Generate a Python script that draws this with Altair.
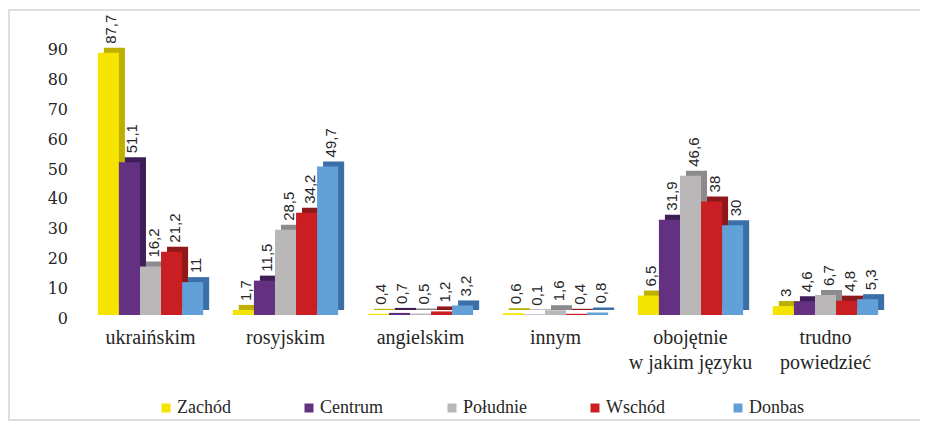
import altair as alt
import pandas as pd

categories = ["ukraińskim", "rosyjskim", "angielskim", "innym",
              "obojętnie\nw jakim języku", "trudno\npowiedzieć"]
regions = ["Zachód", "Centrum", "Południe", "Wschód", "Donbas"]
zachod = [87.7, 1.7, 0.4, 0.6, 6.5, 3]
centrum = [51.1, 11.5, 0.7, 0.1, 31.9, 4.6]
poludnie = [16.2, 28.5, 0.5, 1.6, 46.6, 6.7]
wschod = [21.2, 34.2, 1.2, 0.4, 38, 4.8]
donbas = [11, 49.7, 3.2, 0.8, 30, 5.3]
y_ticks = [0, 10, 20, 30, 40, 50, 60, 70, 80, 90]

front_colors = ["#F5E400", "#633082", "#BAB7B9", "#C91F22", "#62A0D8"]
side_colors = ["#BDB000", "#3F1D57", "#8C8A8C", "#8F181B", "#3B6FA8"]

SERIF = "Liberation Serif"
GEORGIA = "DejaVu Serif"

series = [zachod, centrum, poludnie, wschod, donbas]
rows = []
for r, vals in zip(regions, series):
    for c, v in zip(categories, vals):
        rows.append({"cat": c, "region": r, "value": v,
                     "shade": r + " ",
                     "label": ("%g" % v).replace(".", ",")})
df = pd.DataFrame(rows)
cat_df = pd.DataFrame({"cat": categories})
tick_df = pd.DataFrame({"tick": y_ticks})

W, H = 810, 269


def x_enc(shift):
    return alt.X("cat:N", sort=categories, title=None,
                 scale=alt.Scale(paddingInner=0.22, paddingOuter=0.11,
                                 range=[shift, W + shift]),
                 axis=None)


xo_enc = alt.XOffset("region:N", sort=regions)
y_scale = alt.Scale(domain=[0, 90], nice=False)
y_enc = alt.Y("value:Q", title=None, scale=y_scale,
              axis=alt.Axis(values=y_ticks, labels=False,
                            domain=False, ticks=False,
                            gridColor="#DADADA", gridWidth=1.5))
tick_y = alt.Y("tick:Q", scale=y_scale, axis=None)

base = alt.Chart(df)

side = base.mark_bar(yOffset=-5).encode(
    x=x_enc(6), xOffset=xo_enc, y=y_enc,
    color=alt.Color("shade:N", sort=[r + " " for r in regions],
                    scale=alt.Scale(domain=[r + " " for r in regions],
                                    range=side_colors),
                    legend=None),
)

front = base.mark_bar().encode(
    x=x_enc(0), xOffset=xo_enc, y=y_enc,
    color=alt.Color("region:N", sort=regions,
                    scale=alt.Scale(domain=regions, range=front_colors),
                    legend=alt.Legend(title=None, orient="none",
                                      direction="horizontal",
                                      legendX=74, legendY=353,
                                      symbolType="square", symbolSize=81,
                                      symbolStrokeWidth=0,
                                      labelFont=SERIF,
                                      labelFontSize=18, labelColor="#262626",
                                      labelOffset=2, columnPadding=58,
                                      gridAlign="all")),
)

text = base.mark_text(angle=270, align="left", baseline="middle",
                      dx=9, dy=3, font="Liberation Sans", fontSize=15,
                      color="#262626").encode(
    x=x_enc(0), xOffset=xo_enc, y=y_enc, text="label:N",
)

cat_labels = alt.Chart(cat_df).mark_text(
    baseline="top", align="center", font=SERIF, fontSize=20,
    lineBreak="\n", lineHeight=25, color="#262626").encode(
    x=x_enc(0), y=alt.value(H + 13), text="cat:N")

y_labels = alt.Chart(tick_df).mark_text(
    baseline="middle", align="right", font=GEORGIA, fontSize=16,
    dy=4, color="#262626").encode(
    y=tick_y, x=alt.value(-15), text="tick:Q")

frame = alt.Chart(pd.DataFrame({"a": [0]})).mark_rect(
    fill=None, stroke="#DEDEDE", strokeWidth=2).encode(
    x=alt.value(-74), x2=alt.value(843), y=alt.value(-36), y2=alt.value(374))

chart = alt.layer(frame, side, front + text + cat_labels,
                  y_labels).resolve_scale(
    color="independent", x="independent"
).properties(
    width=W, height=H,
    autosize="none",
    padding={"left": 75, "top": 38, "right": 27, "bottom": 107},
).configure_view(stroke=None)

chart.save("out.html", embed_options={"renderer": "svg", "actions": False})
